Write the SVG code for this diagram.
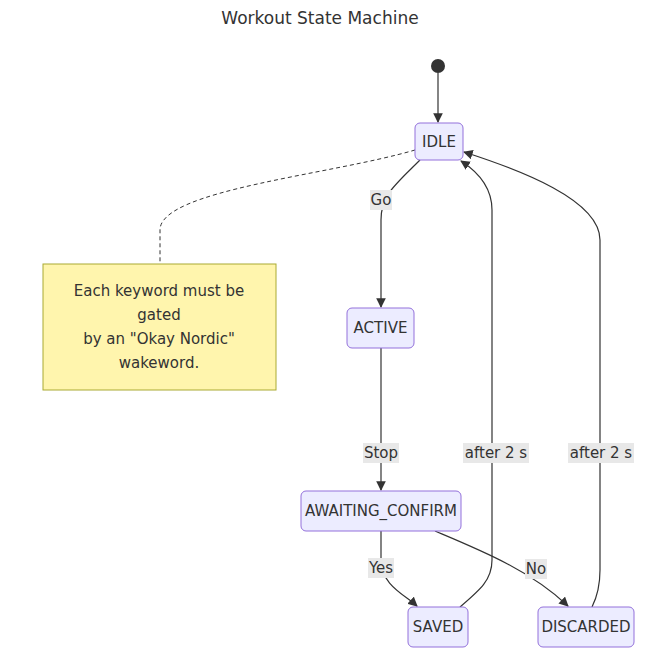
<svg xmlns="http://www.w3.org/2000/svg" width="650" height="663" viewBox="0 0 650 663">
<style>
text{font-family:"Trebuchet MS","DejaVu Sans",Verdana,sans-serif;font-size:15px;fill:#333;text-anchor:middle;dominant-baseline:central}
.st rect{fill:#ececff;stroke:#9370db;stroke-width:1}
.e{fill:none;stroke:#333;stroke-width:1.2;marker-end:url(#a)}
.lb{fill:#e8e8e8}
</style>
<defs><marker id="a" viewBox="0 0 10 10" refX="9" refY="5" markerWidth="8" markerHeight="8" orient="auto"><path d="M0,0L10,5L0,10z" fill="#333"/></marker></defs>
<rect width="650" height="663" fill="#fff"/>
<text x="320" y="18" style="font-size:17px">Workout State Machine</text>
<g id="edges">
<path class="e" d="M438,73V122"/>
<path class="e" d="M420,160C395,185 381,195 381,220V307"/>
<path class="e" d="M381,348V490"/>
<path class="e" d="M381,531V560C381,585 405,595 417,606"/>
<path class="e" d="M435,531C480,550 530,570 568,606"/>
<path class="e" d="M460,607C480,590 492,580 492,560V210C492,185 475,170 461,161"/>
<path class="e" d="M592,607C598,595 600,585 600,570V240C600,200 520,170 464,152"/>
<path d="M415,150C330,175 160,190 160,230V264" fill="none" stroke="#333" stroke-dasharray="4,3"/>
<rect class="lb" x="370" y="190" width="22" height="20"/><text x="381" y="200">Go</text>
<rect class="lb" x="363" y="443" width="36" height="20"/><text x="381" y="453">Stop</text>
<rect class="lb" x="368" y="558" width="26" height="20"/><text x="381" y="568">Yes</text>
<rect class="lb" x="525" y="559" width="22" height="20"/><text x="536" y="569">No</text>
<rect class="lb" x="463" y="443" width="66" height="20"/><text x="496" y="453">after 2 s</text>
<rect class="lb" x="568" y="443" width="66" height="20"/><text x="601" y="453">after 2 s</text>
</g>
<g id="start"><circle cx="438" cy="66" r="7" fill="#333"/></g>
<g id="IDLE" class="st"><rect x="415" y="123" width="48" height="37" rx="5"/><text x="439" y="142">IDLE</text></g>
<g id="ACTIVE" class="st"><rect x="347" y="308" width="67" height="40" rx="5"/><text x="380.5" y="328">ACTIVE</text></g>
<g id="AWAITING_CONFIRM" class="st"><rect x="301" y="491" width="160" height="40" rx="5"/><text x="381" y="511">AWAITING_CONFIRM</text></g>
<g id="SAVED" class="st"><rect x="408" y="607" width="60" height="40" rx="5"/><text x="438" y="627">SAVED</text></g>
<g id="DISCARDED" class="st"><rect x="538" y="607" width="96" height="40" rx="5"/><text x="586" y="627">DISCARDED</text></g>
<g id="note"><rect x="43" y="264" width="233" height="126" fill="#fff5ad" stroke="#aaaa33"/>
<text x="159" y="291">Each keyword must be</text><text x="159" y="315">gated</text><text x="159" y="339">by an "Okay Nordic"</text><text x="159" y="363">wakeword.</text></g>
</svg>
